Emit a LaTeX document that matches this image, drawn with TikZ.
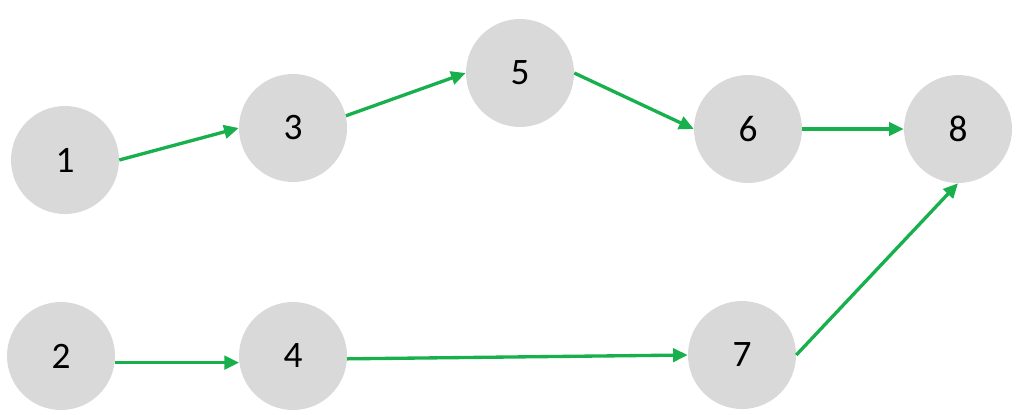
\documentclass[tikz,border=0pt]{standalone}
\usepackage{fontspec}
\setmainfont{Carlito}
\usetikzlibrary{arrows.meta}
\definecolor{nodegray}{HTML}{D9D9D9}
\definecolor{arrowgreen}{HTML}{18B04C}
\begin{document}
\begin{tikzpicture}[x=0.75pt,y=-0.75pt,
  evt/.style={circle,fill=nodegray,minimum size=81pt,inner sep=0pt,
    font=\fontsize{28}{30}\selectfont},
  link/.style={draw=arrowgreen,line width=2.5pt,
    -{Triangle[length=11pt,width=10pt]}}]
\useasboundingbox (0,0) rectangle (1024,414);
\node[evt] (n1) at (65,160) {1};
\node[evt] (n3) at (293,128) {3};
\node[evt] (n5) at (520,73) {5};
\node[evt] (n6) at (748,129) {6};
\node[evt] (n8) at (958,129) {8};
\node[evt] (n2) at (61,356) {2};
\node[evt] (n4) at (293,356) {4};
\node[evt] (n7) at (742,355) {7};
\draw[link] (n1.east) -- (n3.west);
\draw[link] (n3.13) -- (n5.west);
\draw[link] (n5.east) -- (n6.west);
\draw[link] (n6.east) -- (n8.west);
\draw[link] (n2.-7) -- (n4.187);
\draw[link] (n4.-3) -- (n7.west);
\draw[link] (n7.east) -- (n8.south);
\end{tikzpicture}
\end{document}
